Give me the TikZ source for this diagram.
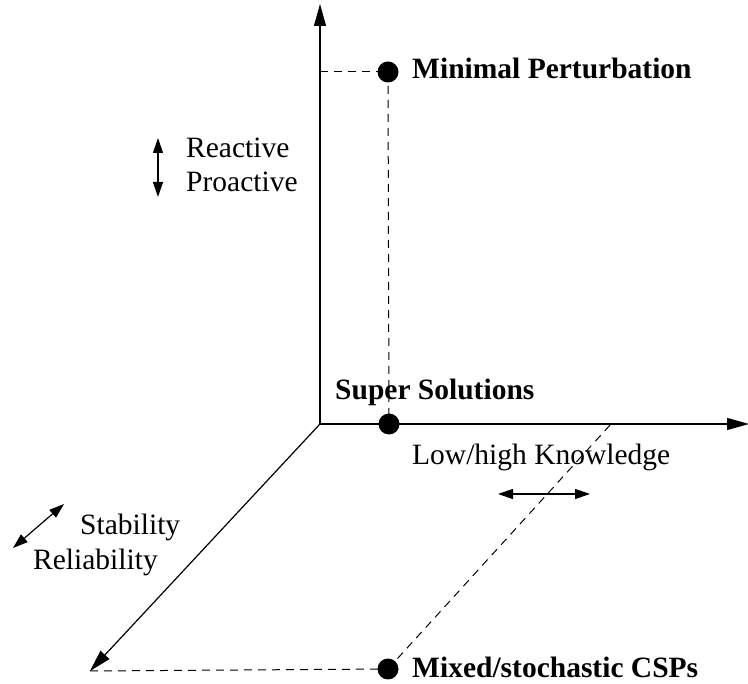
\documentclass[tikz,border=0pt]{standalone}
\usepackage{fontspec}
\setmainfont{Liberation Serif}
\usetikzlibrary{arrows.meta}
\begin{document}
\begin{tikzpicture}[x=1pt,y=-1pt,
  axis/.style={line width=1.2pt,-{Triangle[length=22pt,width=12pt]}},
  dbl/.style={line width=1.2pt,{Triangle[length=15pt,width=10pt]}-{Triangle[length=15pt,width=10pt]}},
  guide/.style={line width=1pt,dash pattern=on 8pt off 6pt},
  dot/.style={circle,fill=black,inner sep=0pt,minimum size=21pt},
  lbl/.style={inner sep=0pt,anchor=base west,font=\fontsize{29.5}{33}\selectfont},
  blbl/.style={lbl,font=\fontsize{29.5}{33}\selectfont\bfseries}]
\useasboundingbox (0,0) rectangle (748,684);
\coordinate (o) at (320,424);
\coordinate (ytip) at (320,4);
\coordinate (xtip) at (749,424);
\coordinate (ztip) at (90,671);
\coordinate (ymark) at (320,72);
\coordinate (xmark) at (611,424);
\draw[axis] (o) -- (ytip);
\draw[axis] (o) -- (xtip);
\draw[axis] (o) -- (ztip);
\node[dot] (mp) at (388,72) {};
\node[dot] (ss) at (389,424) {};
\node[dot] (mx) at (388,669) {};
\draw[guide] (ymark) -- (mp.center);
\draw[guide] (mp.center) -- (ss.center);
\draw[guide] (ztip) -- (mx.center);
\draw[guide] (mx.center) -- (xmark);
\node[blbl] (tmp) at (412,79) {Minimal Perturbation};
\node[blbl] (tss) at (335,400) {Super Solutions};
\node[blbl] (tmx) at (412,678) {Mixed/stochastic CSPs};
\node[lbl] (tre) at (186,158) {Reactive};
\node[lbl] (tpr) at (186,192) {Proactive};
\node[lbl] (tlh) at (412,465) {Low/high Knowledge};
\node[lbl] (tst) at (80,535) {Stability};
\node[lbl] (trl) at (33,570) {Reliability};
\coordinate (a1) at (158,138);
\coordinate (a2) at (158,197);
\coordinate (b1) at (498,494);
\coordinate (b2) at (590,494);
\coordinate (c1) at (13,548);
\coordinate (c2) at (64,504);
\draw[dbl] (a1) -- (a2);
\draw[dbl] (b1) -- (b2);
\draw[dbl] (c1) -- (c2);
\end{tikzpicture}
\end{document}
